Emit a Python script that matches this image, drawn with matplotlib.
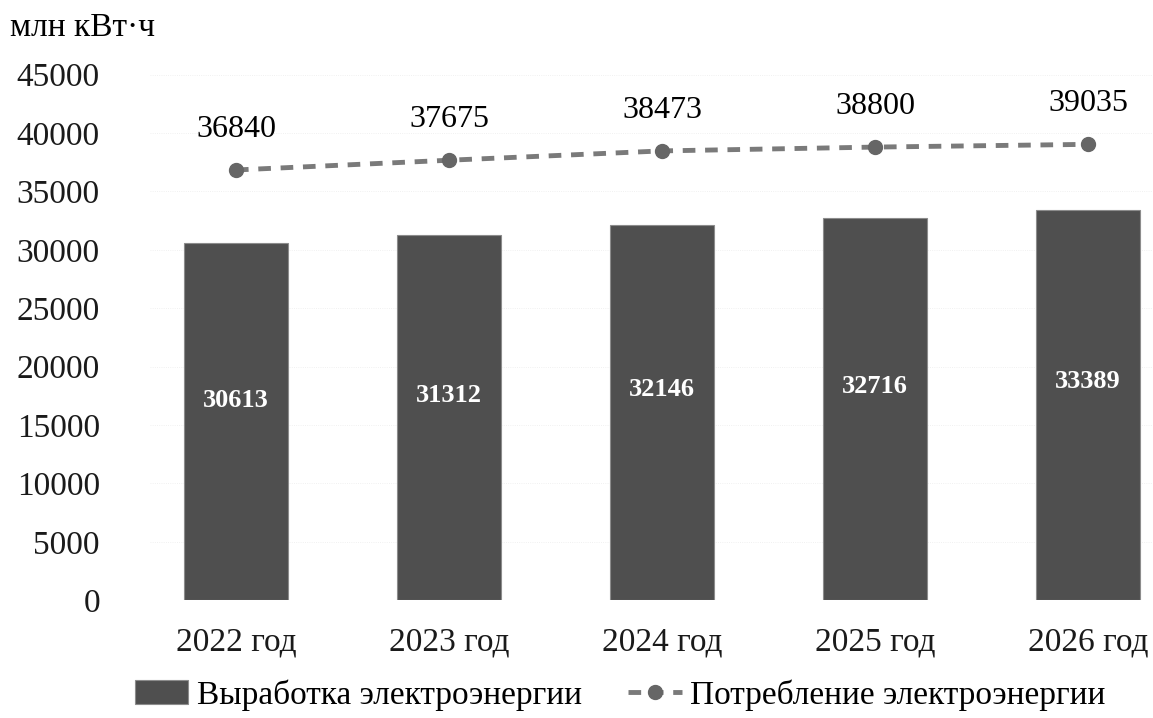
import matplotlib
matplotlib.use('Agg')
import matplotlib.pyplot as plt

years = ['2022 год', '2023 год', '2024 год', '2025 год', '2026 год']
production = [30613, 31312, 32146, 32716, 33389]
consumption = [36840, 37675, 38473, 38800, 39035]
yticks = [0, 5000, 10000, 15000, 20000, 25000, 30000, 35000, 40000, 45000]

plt.rcParams['font.family'] = ['Liberation Serif', 'DejaVu Serif']

fig = plt.figure(figsize=(11.53, 7.18), dpi=100)
ax = fig.add_axes([0.13, 0.164, 0.87, 0.732])

x = list(range(len(years)))
bars = ax.bar(x, production, width=0.49, color='#4f4f4f', edgecolor='#8c8c8c',
              linewidth=0.8, label='Выработка электроэнергии', zorder=2)
line, = ax.plot(x, consumption, linestyle=(0, (2.6, 2)), color='#7a7a7a', linewidth=3.5,
                marker='o', markersize=10, markerfacecolor='#666666', markeredgecolor='#666666',
                label='Потребление электроэнергии', zorder=3)

# подписи значений
for xi, v in zip(x, production):
    ax.text(xi, v * 0.56, str(v), ha='center', va='center', color='white',
            fontsize=19, fontweight='bold', zorder=4)
for xi, v in zip(x, consumption):
    ax.annotate(str(v), (xi, v), xytext=(0, 19), textcoords='offset points',
                ha='center', va='bottom', fontsize=23, color='black')

ax.set_xlim(-0.404, 4.305)
ax.set_ylim(0, 45000)
ax.set_yticks(yticks)
ax.set_xticks(x)
ax.set_xticklabels(years)
ax.tick_params(axis='both', length=0, labelsize=24, colors='#1a1a1a')
ax.tick_params(axis='x', pad=19)
ax.tick_params(axis='y', pad=36)
for s in ax.spines.values():
    s.set_visible(False)
ax.grid(axis='y', color='#ececec', linewidth=0.6, linestyle=':', zorder=0)
ax.set_axisbelow(True)

fig.text(0.009, 0.962, 'млн кВт·ч', fontsize=24, ha='left', va='center')

fig.legend(handles=[bars, line], loc='center', bbox_to_anchor=(0.538, 0.032), ncol=2,
           frameon=False, fontsize=24, handlelength=1.6, handletextpad=0.25, columnspacing=1.4)

fig.savefig('out.png', dpi=100)
